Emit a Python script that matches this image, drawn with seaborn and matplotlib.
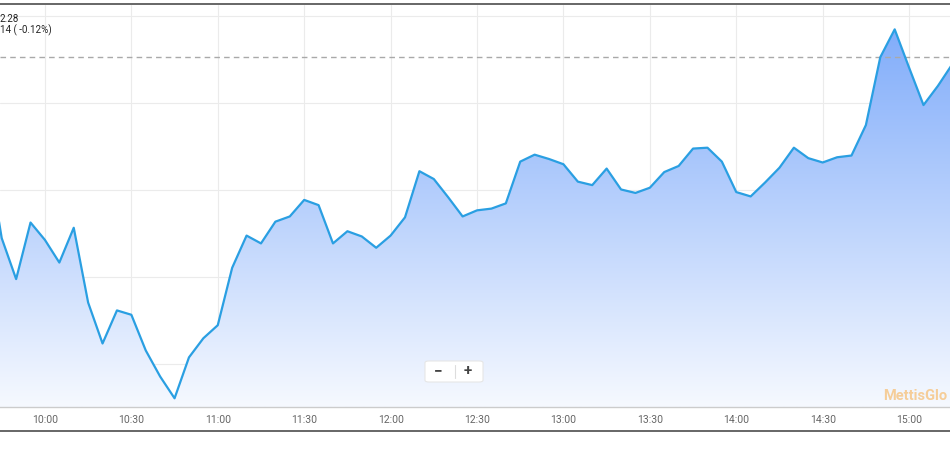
import numpy as np
import pandas as pd
import matplotlib
matplotlib.use("Agg")
import matplotlib.pyplot as plt
import seaborn as sns
from matplotlib.patches import FancyBboxPatch
from matplotlib.lines import Line2D

# ---- data ----
times = ["9:40", "9:45", "9:50", "9:55", "10:00", "10:05", "10:10", "10:15", "10:20", "10:25",
         "10:30", "10:35", "10:40", "10:45", "10:50", "10:55", "11:00", "11:05", "11:10", "11:15",
         "11:20", "11:25", "11:30", "11:35", "11:40", "11:45", "11:50", "11:55", "12:00", "12:05",
         "12:10", "12:15", "12:20", "12:25", "12:30", "12:35", "12:40", "12:45", "12:50", "12:55",
         "13:00", "13:05", "13:10", "13:15", "13:20", "13:25", "13:30", "13:35", "13:40", "13:45",
         "13:50", "13:55", "14:00", "14:05", "14:10", "14:15", "14:20", "14:25", "14:30", "14:35",
         "14:40", "14:45", "14:50", "14:55", "15:00", "15:05", "15:10", "15:15"]
prices = [1850.46, 1849.45, 1848.98, 1849.63, 1849.43, 1849.17, 1849.57, 1848.71, 1848.24, 1848.62,
          1848.57, 1848.16, 1847.86, 1847.61, 1848.08, 1848.30, 1848.45, 1849.11, 1849.48, 1849.39,
          1849.64, 1849.70, 1849.89, 1849.83, 1849.39, 1849.53, 1849.47, 1849.34, 1849.48, 1849.69,
          1850.22, 1850.13, 1849.92, 1849.70, 1849.77, 1849.79, 1849.85, 1850.33, 1850.41, 1850.36,
          1850.30, 1850.10, 1850.06, 1850.25, 1850.01, 1849.97, 1850.03, 1850.21, 1850.28, 1850.48,
          1850.49, 1850.33, 1849.98, 1849.93, 1850.09, 1850.26, 1850.49, 1850.37, 1850.32, 1850.38,
          1850.40, 1850.75, 1851.53, 1851.85, 1851.41, 1850.98, 1851.20, 1851.45]
prev_close = 1851.53
tick_labels = ["10:00", "10:30", "11:00", "11:30", "12:00", "12:30",
               "13:00", "13:30", "14:00", "14:30", "15:00"]
grid_levels = [1848, 1849, 1850, 1851, 1852]
header_lines = ["2.28", "14 ( -0.12%)"]
watermark = "MettisGlo"


def to_min(s):
    h, m = s.split(":")
    return int(h) * 60 + int(m)


df = pd.DataFrame({"t": [to_min(s) for s in times], "price": prices})
tick_pos = [to_min(s) for s in tick_labels]

sns.set_theme(style="white")
plt.rcParams["font.family"] = ["Roboto", "DejaVu Sans"]

fig = plt.figure(figsize=(9.5, 4.5), dpi=100)
ax = fig.add_axes([0.0, 43 / 450, 1.0, 402 / 450])

xmin, xmax = 584.4, 914.2
ymin, ymax = 1847.51, 1852.13
ax.set_xlim(xmin, xmax)
ax.set_ylim(ymin, ymax)

# gradient fill under the line
top_c = np.array([128, 172, 250]) / 255
bot_c = np.array([246, 249, 255]) / 255
n = 256
frac = np.linspace(0, 1, n)[:, None]
grad = top_c * (1 - frac) + bot_c * frac
img = np.repeat(grad[:, None, :], 2, axis=1)
im = ax.imshow(img, extent=[xmin - 20, xmax + 20, ymin, 1851.9], aspect="auto",
               origin="upper", zorder=1, interpolation="bilinear")
poly = ax.fill_between(df["t"], df["price"], ymin, color="none", lw=0)
im.set_clip_path(poly.get_paths()[0], transform=ax.transData)
ax.set_xlim(xmin, xmax)
ax.set_ylim(ymin, ymax)

sns.lineplot(data=df, x="t", y="price", ax=ax, color="#2a9fe2", lw=1.6, zorder=3)
ax.set_xlim(xmin, xmax)
ax.set_ylim(ymin, ymax)

# previous close dashed line
ax.axhline(prev_close, color="#a9a9a9", lw=1.0, ls=(0, (4, 3)), zorder=2)

# grid
for g in grid_levels:
    ax.axhline(g, color="#ebebeb", lw=0.8, zorder=0.5)
for tp in tick_pos:
    ax.axvline(tp, color="#ebebeb", lw=0.8, zorder=0.5)

ax.set_xticks(tick_pos)
ax.set_xticklabels(tick_labels)
ax.set_yticks([])
ax.set_xlabel("")
ax.set_ylabel("")
ax.tick_params(axis="x", colors="#666666", labelsize=7.5, length=4, width=0.8,
               direction="inout", pad=4, color="#cccccc")
for s in ["left", "right", "top"]:
    ax.spines[s].set_visible(False)
ax.spines["bottom"].set_color("#cccccc")
ax.spines["bottom"].set_linewidth(1.0)

# frame lines
fig.add_artist(Line2D([0, 1], [1 - 4 / 450, 1 - 4 / 450], transform=fig.transFigure,
                      color="#5a5a5a", lw=1.3))
fig.add_artist(Line2D([0, 1], [1 - 431 / 450, 1 - 431 / 450], transform=fig.transFigure,
                      color="#5a5a5a", lw=1.3))

# header text
fig.text(0.0, 1 - 19 / 450, header_lines[0], fontsize=7, color="#222222", va="center", ha="left")
fig.text(0.0, 1 - 30 / 450, header_lines[1], fontsize=7, color="#222222", va="center", ha="left")

# watermark
fig.text(947 / 950, 1 - 396 / 450, watermark, fontsize=10.5, fontweight="bold",
         color="#f6c98e", va="center", ha="right", alpha=0.9)

# zoom buttons
bx0, bx1, by0, by1 = 425, 483, 361, 382
box = FancyBboxPatch((bx0 / 950, 1 - by1 / 450), (bx1 - bx0) / 950, (by1 - by0) / 450,
                     boxstyle="round,pad=0,rounding_size=0.004", transform=fig.transFigure,
                     facecolor="white", edgecolor="#e6e6e6", lw=0.8, zorder=10)
fig.add_artist(box)
fig.add_artist(Line2D([455 / 950, 455 / 950], [1 - 378 / 450, 1 - 365 / 450],
                      transform=fig.transFigure, color="#dddddd", lw=0.8, zorder=11))
fig.text(438 / 950, 1 - 371 / 450, "−", fontsize=11, fontweight="bold", color="#444444",
         ha="center", va="center", zorder=12)
fig.text(468 / 950, 1 - 371 / 450, "+", fontsize=11, fontweight="bold", color="#444444",
         ha="center", va="center", zorder=12)

fig.savefig("out.png", dpi=100)
